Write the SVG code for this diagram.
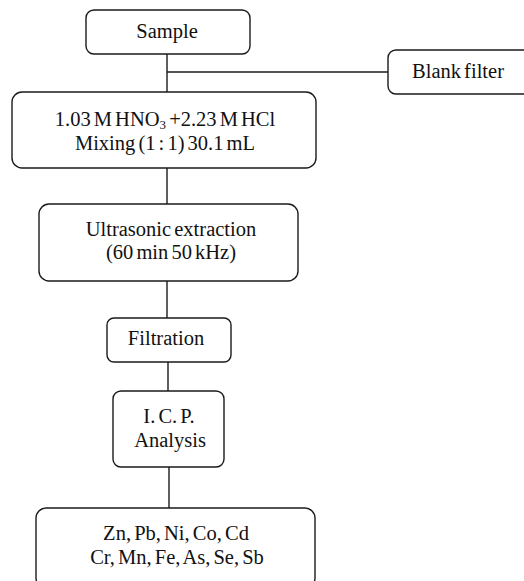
<svg xmlns="http://www.w3.org/2000/svg" width="524" height="581" viewBox="0 0 524 581">
<style>
.box{fill:#fff;stroke:#1a1a1a;stroke-width:1.4}
.ln{stroke:#1a1a1a;stroke-width:1.4;fill:none}
text{font-family:"Liberation Serif","Times New Roman",serif;font-size:20.5px;word-spacing:-2px;fill:#111;text-anchor:middle}
</style>
<rect width="524" height="581" fill="#fff"/>
<g id="connectors">
<line class="ln" x1="167" y1="54" x2="167" y2="92"/>
<line class="ln" x1="167" y1="72" x2="388" y2="72"/>
<line class="ln" x1="167" y1="168" x2="167" y2="204"/>
<line class="ln" x1="167" y1="281" x2="167" y2="318"/>
<line class="ln" x1="168" y1="362" x2="168" y2="391"/>
<line class="ln" x1="169" y1="467" x2="169" y2="508"/>
</g>
<g id="sample">
<rect class="box" x="86" y="10" width="164" height="44" rx="8"/>
<text x="167" y="38">Sample</text>
</g>
<g id="blank-filter">
<rect class="box" x="388" y="50" width="150" height="44" rx="8"/>
<text x="458" y="78">Blank filter</text>
</g>
<g id="acid-mix">
<rect class="box" x="12" y="92" width="304" height="76" rx="10"/>
<text x="165" y="126">1.03 M HNO<tspan font-size="13" dy="3">3</tspan><tspan dy="-3"> +2.23 M HCl</tspan></text>
<text x="165" y="150">Mixing (1 : 1) 30.1 mL</text>
</g>
<g id="ultrasonic">
<rect class="box" x="39" y="204" width="259" height="77" rx="10"/>
<text x="171" y="236">Ultrasonic extraction</text>
<text x="171" y="259">(60 min 50 kHz)</text>
</g>
<g id="filtration">
<rect class="box" x="107" y="318" width="124" height="44" rx="7"/>
<text x="166" y="345">Filtration</text>
</g>
<g id="icp">
<rect class="box" x="113" y="391" width="111" height="76" rx="8"/>
<text x="169" y="423">I. C. P.</text>
<text x="170" y="447">Analysis</text>
</g>
<g id="elements">
<rect class="box" x="36" y="508" width="279" height="80" rx="10"/>
<text x="176" y="540">Zn, Pb, Ni, Co, Cd</text>
<text x="177" y="564">Cr, Mn, Fe, As, Se, Sb</text>
</g>
</svg>
